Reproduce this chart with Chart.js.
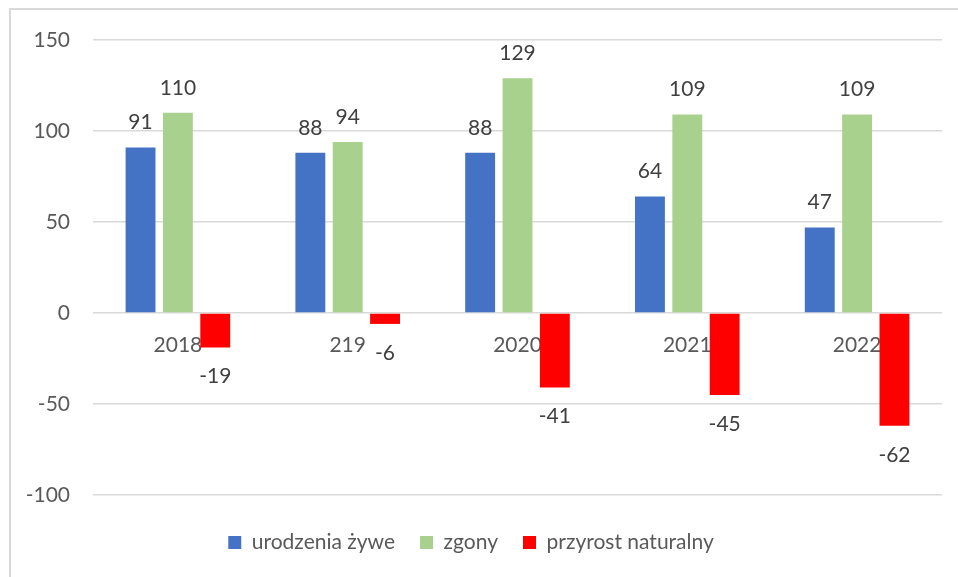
<!DOCTYPE html>
<html lang="pl">
<head>
<meta charset="utf-8">
<title>Urodzenia i zgony</title>
<script src="https://cdn.jsdelivr.net/npm/chart.js@4/dist/chart.umd.min.js"></script>
<style>
    html, body { margin: 0; padding: 0; background: #fff; overflow: hidden; }
    #wrap { position: relative; width: 958px; height: 577px; overflow: hidden; }
    #frame {
        position: absolute; left: 9px; top: 8px; width: 1000px; height: 700px;
        border: 2px solid #d9d9d9; box-sizing: border-box;
    }
    #myChart { position: absolute; left: 0; top: 0; }
</style>
</head>
<body>
<div id="wrap">
    <div id="frame"></div>
    <canvas id="myChart" width="958" height="577"></canvas>
</div>
<script>
// data
const years = ['2018', '219', '2020', '2021', '2022'];
const births = [91, 88, 88, 64, 47];
const deaths = [110, 94, 129, 109, 109];
const growth = [-19, -6, -41, -45, -62];
const yTicks = [-100, -50, 0, 50, 100, 150];

const FONT = 'Lato, "Open Sans", sans-serif';
const TEXT = '#595959';
const GRID = '#d9d9d9';

// value labels above / below each bar
const valueLabels = {
    id: 'valueLabels',
    afterDatasetsDraw(chart) {
        const ctx = chart.ctx;
        ctx.save();
        ctx.font = '21px ' + FONT;
        ctx.fillStyle = '#404040';
        ctx.textAlign = 'center';
        ctx.textBaseline = 'middle';
        chart.data.datasets.forEach((ds, i) => {
            const meta = chart.getDatasetMeta(i);
            meta.data.forEach((bar, j) => {
                const v = ds.data[j];
                const y = v >= 0 ? bar.y - 25 : bar.y + 29;
                ctx.fillText(String(v), bar.x, y);
            });
        });
        ctx.restore();
    }
};

// keep the legend a fixed height so the plot ends at -100
const legendHeight = {
    id: 'legendHeight',
    beforeInit(chart) {
        const fit = chart.legend.fit;
        chart.legend.fit = function () {
            fit.call(this);
            this.height = 82;
        };
    }
};

const ctx = document.getElementById('myChart').getContext('2d');
const chart = new Chart(ctx, {
    type: 'bar',
    data: {
        labels: years,
        datasets: [
            { label: 'urodzenia żywe', data: births, backgroundColor: '#4472c4' },
            { label: 'zgony', data: deaths, backgroundColor: '#a9d18e' },
            { label: 'przyrost naturalny', data: growth, backgroundColor: '#ff0000' }
        ]
    },
    options: {
        responsive: false,
        animation: false,
        categoryPercentage: 0.66,
        barPercentage: 0.8,
        layout: { padding: { left: 0, right: 16, top: 40, bottom: 0 } },
        plugins: {
            tooltip: { enabled: false },
            legend: {
                position: 'bottom',
                title: { display: true, text: '', font: { size: 10 }, padding: 0 },
                labels: {
                    boxWidth: 13,
                    boxHeight: 13,
                    padding: 25,
                    color: TEXT,
                    font: { family: FONT, size: 21 }
                }
            }
        },
        scales: {
            x: {
                position: { y: 0 },
                grid: { display: false, drawTicks: false },
                border: { display: false },
                ticks: {
                    color: TEXT,
                    padding: 20,
                    maxRotation: 0,
                    font: { family: FONT, size: 21 }
                }
            },
            y: {
                min: yTicks[0],
                max: yTicks[yTicks.length - 1],
                afterFit(scale) { scale.width = 93; },
                afterBuildTicks(scale) { scale.ticks = yTicks.map(v => ({ value: v })); },
                grid: { color: GRID, lineWidth: 1.5, drawTicks: false },
                border: { display: false },
                ticks: {
                    color: TEXT,
                    padding: 23,
                    font: { family: FONT, size: 21 }
                }
            }
        }
    },
    plugins: [valueLabels, legendHeight]
});
</script>
</body>
</html>
